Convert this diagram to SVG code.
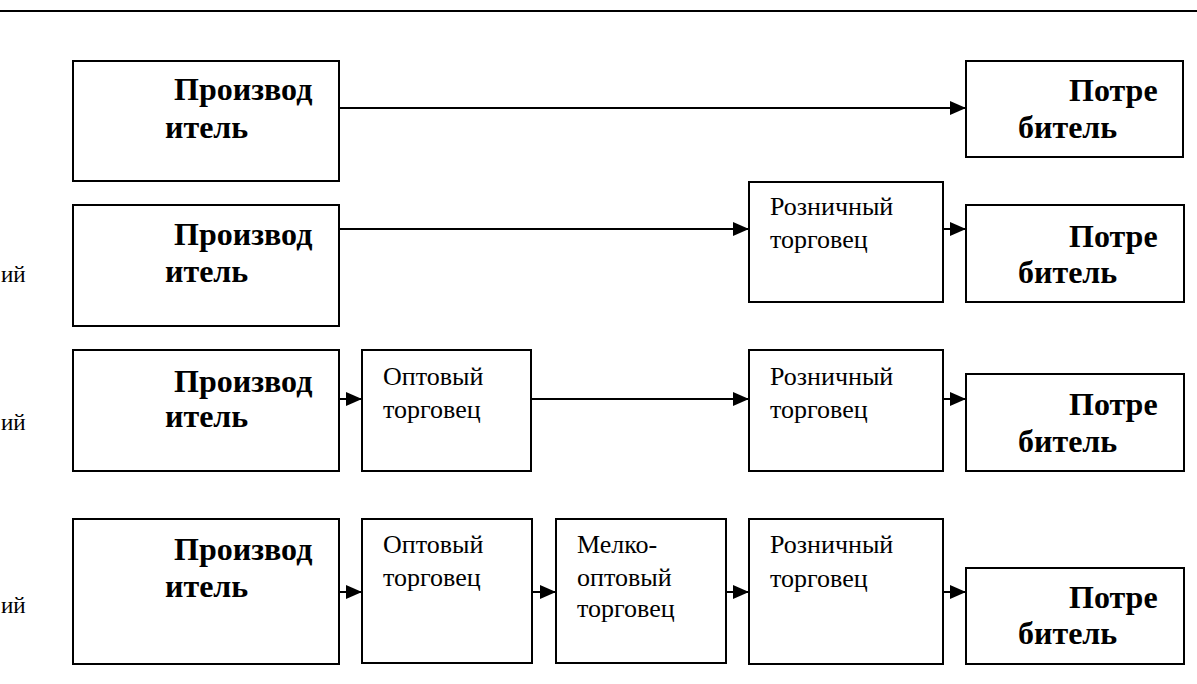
<svg xmlns="http://www.w3.org/2000/svg" width="1197" height="684" viewBox="0 0 1197 684">
<style>
.box{fill:#fff;stroke:#000;stroke-width:2}
.b{font-family:"Liberation Serif",serif;font-weight:bold;font-size:32px;fill:#000}
.r{font-family:"Liberation Serif",serif;font-size:26px;fill:#000}
.l{font-family:"Liberation Serif",serif;font-size:23px;fill:#000}
.c{stroke:#000;stroke-width:2;fill:none;marker-end:url(#ah)}
</style>
<defs>
<marker id="ah" markerUnits="userSpaceOnUse" markerWidth="16" markerHeight="14" refX="16" refY="7" orient="auto">
<path d="M0,0 L16,7 L0,14 Z" fill="#000"/>
</marker>
</defs>
<rect width="1197" height="684" fill="#fff"/>
<line x1="0" y1="11" x2="1197" y2="11" stroke="#000" stroke-width="2"/>
<g id="labels">
<text class="l" x="1" y="282">ий</text>
<text class="l" x="1" y="430">ий</text>
<text class="l" x="1" y="613">ий</text>
</g>
<g id="connectors">
<line class="c" x1="339" y1="108" x2="966" y2="108"/>
<line class="c" x1="339" y1="229" x2="749" y2="229"/>
<line class="c" x1="943" y1="229" x2="966" y2="229"/>
<line class="c" x1="339" y1="399" x2="362" y2="399"/>
<line class="c" x1="531" y1="399" x2="749" y2="399"/>
<line class="c" x1="943" y1="399" x2="966" y2="399"/>
<line class="c" x1="339" y1="592" x2="362" y2="592"/>
<line class="c" x1="532" y1="592" x2="556" y2="592"/>
<line class="c" x1="726" y1="592" x2="749" y2="592"/>
<line class="c" x1="943" y1="592" x2="966" y2="592"/>
</g>
<g id="producer1"><rect class="box" x="73" y="61" width="266" height="120"/><text class="b" x="174" y="100">Производ</text><text class="b" x="165" y="138">итель</text></g>
<g id="consumer1"><rect class="box" x="966" y="61" width="217" height="96"/><text class="b" x="1069" y="101">Потре</text><text class="b" x="1018" y="138">битель</text></g>
<g id="producer2"><rect class="box" x="73" y="205" width="266" height="121"/><text class="b" x="174" y="245">Производ</text><text class="b" x="165" y="282">итель</text></g>
<g id="retail2"><rect class="box" x="749" y="182" width="194" height="120"/><text class="r" x="770" y="215">Розничный</text><text class="r" x="770" y="248">торговец</text></g>
<g id="consumer2"><rect class="box" x="966" y="205" width="218" height="97"/><text class="b" x="1069" y="247">Потре</text><text class="b" x="1018" y="283">битель</text></g>
<g id="producer3"><rect class="box" x="73" y="350" width="266" height="121"/><text class="b" x="174" y="392">Производ</text><text class="b" x="165" y="427">итель</text></g>
<g id="wholesale3"><rect class="box" x="362" y="350" width="169" height="121"/><text class="r" x="383" y="385">Оптовый</text><text class="r" x="383" y="418">торговец</text></g>
<g id="retail3"><rect class="box" x="749" y="350" width="194" height="121"/><text class="r" x="770" y="385">Розничный</text><text class="r" x="770" y="418">торговец</text></g>
<g id="consumer3"><rect class="box" x="966" y="374" width="218" height="97"/><text class="b" x="1069" y="415">Потре</text><text class="b" x="1018" y="452">битель</text></g>
<g id="producer4"><rect class="box" x="73" y="519" width="266" height="145"/><text class="b" x="174" y="560">Производ</text><text class="b" x="165" y="597">итель</text></g>
<g id="wholesale4"><rect class="box" x="362" y="519" width="170" height="144"/><text class="r" x="383" y="553">Оптовый</text><text class="r" x="383" y="586">торговец</text></g>
<g id="smallwholesale4"><rect class="box" x="556" y="519" width="170" height="144"/><text class="r" x="577" y="553">Мелко-</text><text class="r" x="577" y="586">оптовый</text><text class="r" x="577" y="617">торговец</text></g>
<g id="retail4"><rect class="box" x="749" y="519" width="194" height="145"/><text class="r" x="770" y="553">Розничный</text><text class="r" x="770" y="587">торговец</text></g>
<g id="consumer4"><rect class="box" x="966" y="568" width="218" height="96"/><text class="b" x="1069" y="608">Потре</text><text class="b" x="1018" y="644">битель</text></g>
</svg>
